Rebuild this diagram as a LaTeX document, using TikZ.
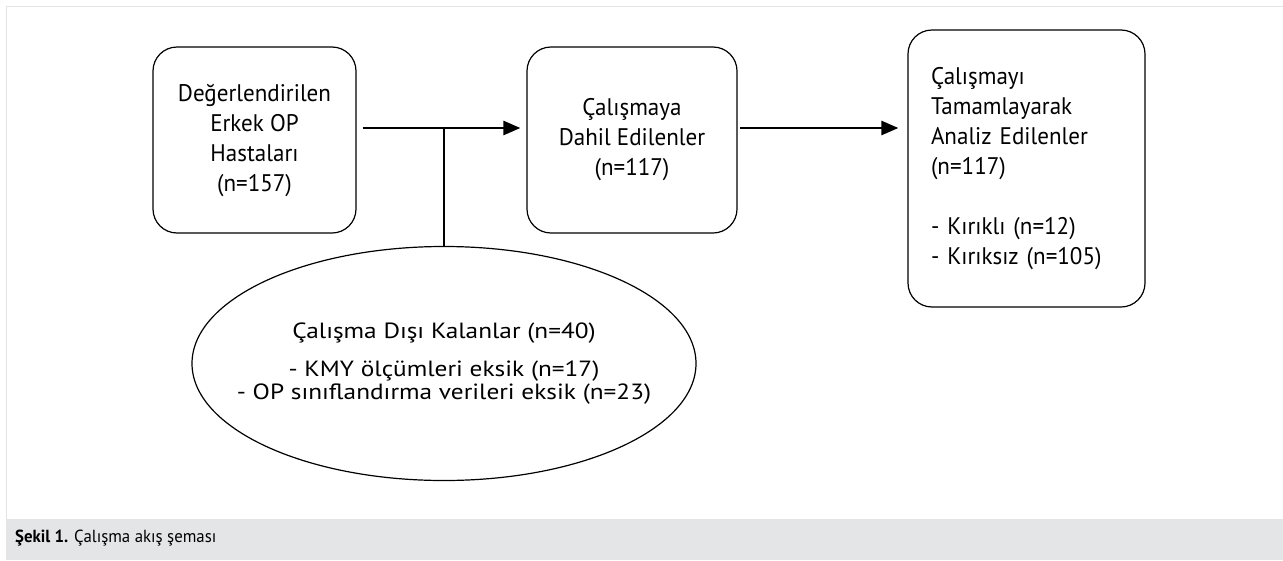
\documentclass[tikz,border=0pt]{standalone}
\usepackage{fontspec}
\setmainfont[FakeStretch=0.96]{PT Sans}
\newfontfamily\ellfont[FakeStretch=1.15]{PT Sans}
\usetikzlibrary{arrows.meta,shapes.geometric}
\definecolor{framecol}{HTML}{E3E3E3}
\definecolor{capcol}{HTML}{E4E5E7}
\tikzset{
  box/.style={draw=black, line width=1.2pt, rounded corners=24pt, inner sep=0pt,
    font=\fontsize{24pt}{30pt}\selectfont},
  ovalbox/.style={draw=black, line width=1.2pt, ellipse, inner xsep=-60pt, inner ysep=0pt,
    font=\ellfont\fontsize{22pt}{23pt}\selectfont, align=center},
  arr/.style={line width=2.6pt, -{Triangle[length=17pt,width=14pt]}},
  bar/.style={line width=2.6pt}
}
\begin{document}
\begin{tikzpicture}[x=1pt,y=-1pt]
\useasboundingbox (0,0) rectangle (1283,560);
\fill[white] (0,0) rectangle (1283,560);
\fill[capcol] (6,519) rectangle (1283,560);
\draw[framecol, line width=1pt] (6,560) -- (6,6) -- (1283,6);

\node[box, minimum width=203pt, minimum height=186pt, align=center] (b1) at (254.5,140)
  {Değerlendirilen\\Erkek OP\\Hastaları\\(n=157)};
\node[box, minimum width=210pt, minimum height=186pt, align=center] (b2) at (632,140)
  {Çalışmaya\\Dahil Edilenler\\(n=117)};
\node[box, minimum width=237pt, minimum height=277pt, text width=191pt, align=left] (b3) at (1026.5,168.5)
  {Çalışmayı\\Tamamlayarak\\Analiz Edilenler\\(n=117)\\[30pt]- Kırıklı (n=12)\\- Kırıksız (n=105)};
\node[ovalbox, minimum width=504pt, minimum height=234pt] (ell) at (444,363.5)
  {\raisebox{-4pt}{Çalışma Dışı Kalanlar (n=40)}\\[17pt]- KMY ölçümleri eksik (n=17)\\- OP sınıflandırma verileri eksik (n=23)};

\coordinate (a1) at ([xshift=6pt,yshift=12pt]b1.east);
\draw[arr] (a1) -- ([xshift=-6pt]b2.west |- a1);
\draw[bar] (ell.north) -- (ell.north |- a1);
\coordinate (a2) at ([xshift=2pt,yshift=12pt]b2.east);
\draw[arr] (a2) -- ([xshift=-9pt]b3.west |- a2);

\node[anchor=west, inner sep=0pt, font=\fontsize{17.5pt}{20pt}\selectfont] (cap) at (15,538)
  {\textbf{Şekil 1.} Çalışma akış şeması};
\end{tikzpicture}
\end{document}
